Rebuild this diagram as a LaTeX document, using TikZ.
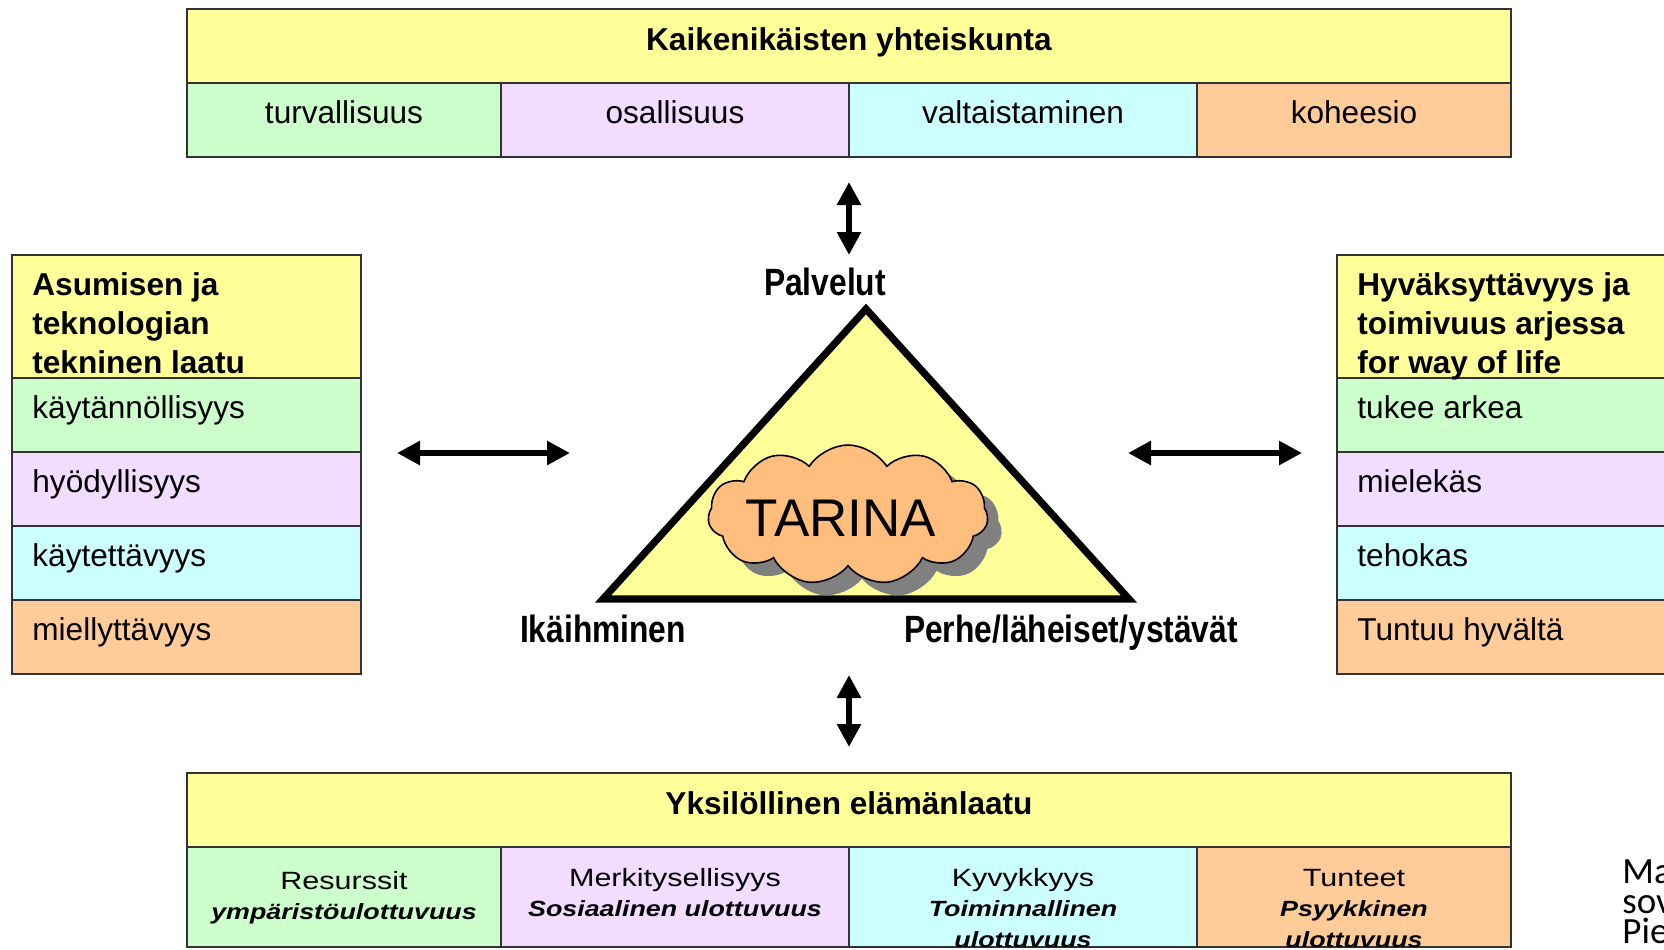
\documentclass[tikz,border=0pt]{standalone}
\usepackage{fontspec}
\setmainfont{Liberation Sans}
\newfontfamily\widesf[FakeStretch=1.22]{Liberation Sans}
\newfontfamily\narrowsf[FakeStretch=0.836]{Liberation Sans}
\newfontfamily\notesf{Carlito}
\usepackage{xcolor}
\usepackage{tikz}
\usetikzlibrary{arrows.meta, positioning, calc, shapes.symbols, shadows}

\definecolor{hdrYel}{HTML}{FFFF99}
\definecolor{cellGrn}{HTML}{CCFFCC}
\definecolor{cellLil}{HTML}{F2DCFF}
\definecolor{cellCya}{HTML}{CCFFFF}
\definecolor{cellOra}{HTML}{FFCC99}
\definecolor{cloudOra}{HTML}{FFBE7D}

\begin{document}
\begin{tikzpicture}[
    x=0.5pt, y=-0.5pt,
    cell/.style={rectangle, draw=black!80, line width=0.9pt, inner sep=0pt, outer sep=0pt, anchor=north west},
    hcell/.style={cell, fill=hdrYel},
    txt/.style={inner sep=0pt, anchor=base, font=\fontsize{15.8}{19}\selectfont},
    btxt/.style={txt, font=\fontsize{15.8}{19}\selectfont\bfseries},
    ltxt/.style={txt, anchor=base west},
    lbtxt/.style={btxt, anchor=base west},
    dimtxt/.style={txt, font=\widesf\fontsize{12.5}{15}\selectfont},
    subtxt/.style={txt, font=\widesf\fontsize{11}{13}\selectfont\bfseries\itshape},
    corner/.style={txt, font=\narrowsf\fontsize{19}{22}\selectfont\bfseries},
    note/.style={inner sep=0pt, anchor=base west, font=\notesf\fontsize{18.5}{21}\selectfont},
    tri/.style={draw=black, line width=3.6pt, fill=hdrYel, line join=miter},
    story/.style={cloud, cloud puffs=11, cloud puff arc=115, aspect=2, draw=black, line width=0.8pt,
        fill=cloudOra, minimum width=140pt, minimum height=70pt, inner sep=0pt,
        drop shadow={shadow xshift=7pt, shadow yshift=-6.5pt, fill=black!50, opacity=1}},
    storytxt/.style={inner sep=0pt, font=\fontsize{26.5}{30}\selectfont},
    dblarr/.style={{Triangle[width=11.5pt,length=11.5pt]}-{Triangle[width=11.5pt,length=11.5pt]}, line width=3pt}
]
\path[use as bounding box, fill=white] (0,0) rectangle (1664,949);

% top block
\node[hcell, minimum width=662pt, minimum height=37pt] (top) at (187,9) {};
\node[cell, fill=cellGrn, minimum width=157pt, minimum height=37pt, below=0pt of top.south west, anchor=north west] (t1) {};
\node[cell, fill=cellLil, minimum width=174pt, minimum height=37pt, right=0pt of t1] (t2) {};
\node[cell, fill=cellCya, minimum width=174pt, minimum height=37pt, right=0pt of t2] (t3) {};
\node[cell, fill=cellOra, minimum width=157pt, minimum height=37pt, right=0pt of t3] (t4) {};
\node[btxt] (toptitle) at ($(top.north)+(0,41)$) {Kaikenikäisten yhteiskunta};
\node[txt] (t1txt) at ($(t1.north)+(0,40)$) {turvallisuus};
\node[txt] (t2txt) at ($(t2.north)+(0,40)$) {osallisuus};
\node[txt] (t3txt) at ($(t3.north)+(0,40)$) {valtaistaminen};
\node[txt] (t4txt) at ($(t4.north)+(0,40)$) {koheesio};

% left block
\node[hcell, minimum width=174.5pt, minimum height=61.5pt] (lhead) at (12,255) {};
\node[cell, fill=cellGrn, minimum width=174.5pt, minimum height=37pt, below=0pt of lhead] (l1) {};
\node[cell, fill=cellLil, minimum width=174.5pt, minimum height=37pt, below=0pt of l1] (l2) {};
\node[cell, fill=cellCya, minimum width=174.5pt, minimum height=37pt, below=0pt of l2] (l3) {};
\node[cell, fill=cellOra, minimum width=174.5pt, minimum height=37pt, below=0pt of l3] (l4) {};
\node[lbtxt] (lh1) at ($(lhead.north west)+(20,40)$) {Asumisen ja};
\node[lbtxt] (lh2) at ($(lhead.north west)+(20,79)$) {teknologian};
\node[lbtxt] (lh3) at ($(lhead.north west)+(20,118)$) {tekninen laatu};
\node[ltxt] (l1txt) at ($(l1.north west)+(20,40)$) {käytännöllisyys};
\node[ltxt] (l2txt) at ($(l2.north west)+(20,40)$) {hyödyllisyys};
\node[ltxt] (l3txt) at ($(l3.north west)+(20,40)$) {käytettävyys};
\node[ltxt] (l4txt) at ($(l4.north west)+(20,40)$) {miellyttävyys};

% right block
\node[hcell, minimum width=181.5pt, minimum height=61.5pt] (rhead) at (1337,255) {};
\node[cell, fill=cellGrn, minimum width=181.5pt, minimum height=37pt, below=0pt of rhead] (r1) {};
\node[cell, fill=cellLil, minimum width=181.5pt, minimum height=37pt, below=0pt of r1] (r2) {};
\node[cell, fill=cellCya, minimum width=181.5pt, minimum height=37pt, below=0pt of r2] (r3) {};
\node[cell, fill=cellOra, minimum width=181.5pt, minimum height=37pt, below=0pt of r3] (r4) {};
\node[lbtxt] (rh1) at ($(rhead.north west)+(20,40)$) {Hyväksyttävyys ja};
\node[lbtxt] (rh2) at ($(rhead.north west)+(20,79)$) {toimivuus arjessa};
\node[lbtxt] (rh3) at ($(rhead.north west)+(20,118)$) {for way of life};
\node[ltxt] (r1txt) at ($(r1.north west)+(20,40)$) {tukee arkea};
\node[ltxt] (r2txt) at ($(r2.north west)+(20,40)$) {mielekäs};
\node[ltxt] (r3txt) at ($(r3.north west)+(20,40)$) {tehokas};
\node[ltxt] (r4txt) at ($(r4.north west)+(20,40)$) {Tuntuu hyvältä};

% bottom block
\node[hcell, minimum width=662pt, minimum height=37pt] (bot) at (187,773) {};
\node[cell, fill=cellGrn, minimum width=157pt, minimum height=50pt, below=0pt of bot.south west, anchor=north west] (b1) {};
\node[cell, fill=cellLil, minimum width=174pt, minimum height=50pt, right=0pt of b1] (b2) {};
\node[cell, fill=cellCya, minimum width=174pt, minimum height=50pt, right=0pt of b2] (b3) {};
\node[cell, fill=cellOra, minimum width=157pt, minimum height=50pt, right=0pt of b3] (b4) {};
\node[btxt] (bottitle) at ($(bot.north)+(0,41)$) {Yksilöllinen elämänlaatu};
\node[dimtxt] (b1a) at ($(b1.north)+(0,42)$) {Resurssit};
\node[subtxt] (b1b) at ($(b1.north)+(0,72)$) {ympäristöulottuvuus};
\node[dimtxt] (b2a) at ($(b2.north)+(0,39)$) {Merkitysellisyys};
\node[subtxt] (b2b) at ($(b2.north)+(0,69)$) {Sosiaalinen ulottuvuus};
\node[dimtxt] (b3a) at ($(b3.north)+(0,39)$) {Kyvykkyys};
\node[subtxt] (b3b) at ($(b3.north)+(0,69)$) {Toiminnallinen};
\node[subtxt] (b3c) at ($(b3.north)+(0,100)$) {ulottuvuus};
\node[dimtxt] (b4a) at ($(b4.north)+(0,39)$) {Tunteet};
\node[subtxt] (b4b) at ($(b4.north)+(0,69)$) {Psyykkinen};
\node[subtxt] (b4c) at ($(b4.north)+(0,100)$) {ulottuvuus};

% triangle and story
\coordinate (apex) at (866,309);
\coordinate (baseL) at (603,599);
\coordinate (baseR) at (1129,599);
\draw[tri] (apex) -- (baseL) -- (baseR) -- cycle;
\node[story] (tarina) at (848,515) {};
\node[storytxt] (tarinatxt) at (841,518) {TARINA};
\node[corner] (palvelut) at (825,295) {Palvelut};
\node[corner] (ikaih) at (603,642) {Ikäihminen};
\node[corner] (perhe) at (1071,642) {Perhe/läheiset/ystävät};

% arrows
\coordinate (upA) at (849,182);
\coordinate (upB) at (849,255);
\coordinate (dnA) at (849,675);
\coordinate (dnB) at (849,747);
\coordinate (lfA) at (397,453);
\coordinate (lfB) at (570,453);
\coordinate (rtA) at (1128,453);
\coordinate (rtB) at (1302,453);
\draw[dblarr] (upA) -- (upB);
\draw[dblarr] (dnA) -- (dnB);
\draw[dblarr] (lfA) -- (lfB);
\draw[dblarr] (rtA) -- (rtB);

\node[note] (src1) at (1622,883) {Ma};
\node[note] (src2) at (1622,913) {sov};
\node[note] (src3) at (1622,943) {Pie};

\end{tikzpicture}
\end{document}
